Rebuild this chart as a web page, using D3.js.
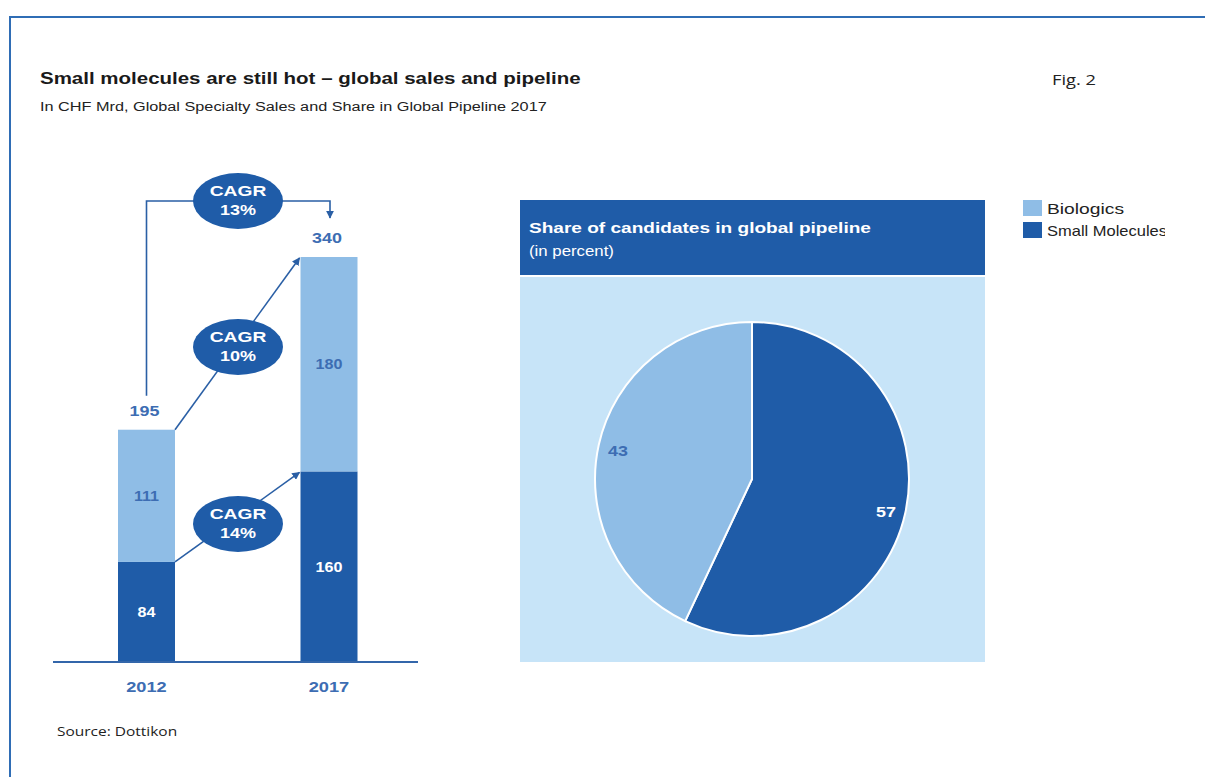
<!DOCTYPE html>
<html>
<head>
<meta charset="utf-8">
<script src="https://cdn.jsdelivr.net/npm/d3@7"></script>
<style>
  body { margin: 0; background: #fff; }
  svg { display: block; font-family: Arial, "Liberation Sans", sans-serif; }
</style>
</head>
<body>
<svg id="chart" width="1205" height="777"></svg>
<script>
// Datos
const years = ["2012", "2017"];
const smallMolecules = [84, 160];
const biologics = [111, 180];
const totals = [195, 340];
const cagrLabels = ["13%", "10%", "14%"];
const pieLabels = ["Small Molecules", "Biologics"];
const pieValues = [57, 43];
const legendLabels = ["Biologics", "Small Molecules"];

// Colores
const darkBlue = "#1f5ca8";
const lightBlue = "#8fbde6";
const paleBlue = "#c7e4f8";
const textBlue = "#3d6db3";

// La imagen original está estirada en horizontal
const K = 1.28;
function stretch(sel, k) {
    sel.each(function () {
        const len = this.getComputedTextLength();
        d3.select(this).attr("textLength", len * (k || K)).attr("lengthAdjust", "spacingAndGlyphs");
    });
    return sel;
}

const svg = d3.select("#chart");

// Marco
svg.append("path")
    .attr("d", "M10,777 L10,17 L1205,17")
    .attr("fill", "none")
    .attr("stroke", "#2f6db5")
    .attr("stroke-width", 2);

// Títulos
stretch(svg.append("text").attr("x", 40).attr("y", 84)
    .attr("font-size", 16).attr("font-weight", "bold").attr("fill", "#1a1a1a")
    .text("Small molecules are still hot \u2013 global sales and pipeline"), 1.28);
stretch(svg.append("text").attr("x", 40).attr("y", 111)
    .attr("font-size", 12.5).attr("fill", "#222")
    .text("In CHF Mrd, Global Specialty Sales and Share in Global Pipeline 2017"), 1.3);
stretch(svg.append("text").attr("x", 1052).attr("y", 85)
    .attr("font-size", 15).attr("fill", "#222")
    .attr("font-family", "'Open Sans', sans-serif")
    .text("Fig. 2"), 1.22);
stretch(svg.append("text").attr("x", 57).attr("y", 736)
    .attr("font-size", 13).attr("fill", "#222")
    .attr("font-family", "'Open Sans', sans-serif")
    .text("Source: Dottikon"), 1.19);

// Barras apiladas
const baseY = 662;
const barW = 57;
const x = d3.scalePoint().domain(years).range([146.5, 329]);
const y = d3.scaleLinear().domain([0, 340]).range([baseY, 257]);

const stackData = years.map((yr, i) => ({ year: yr, small: smallMolecules[i], bio: biologics[i] }));
const stack = d3.stack().keys(["small", "bio"])(stackData);
const barColors = { small: darkBlue, bio: lightBlue };

const bars = svg.append("g");
stack.forEach(layer => {
    bars.selectAll(null).data(layer).enter().append("rect")
        .attr("x", d => x(d.data.year) - barW / 2)
        .attr("width", barW)
        .attr("y", d => y(d[1]))
        .attr("height", d => y(d[0]) - y(d[1]))
        .attr("fill", barColors[layer.key]);
    stretch(bars.selectAll(null).data(layer).enter().append("text")
        .attr("x", d => x(d.data.year))
        .attr("y", d => (y(d[0]) + y(d[1])) / 2 + 5)
        .attr("text-anchor", "middle")
        .attr("font-size", 14).attr("font-weight", "bold")
        .attr("fill", layer.key === "small" ? "#fff" : textBlue)
        .text(d => d[1] - d[0]), 1.15);
});

// Totales
stretch(svg.selectAll(".total").data(years).enter().append("text")
    .attr("class", "total")
    .attr("x", d => x(d) - 2)
    .attr("y", (d, i) => y(totals[i]) - 14)
    .attr("text-anchor", "middle")
    .attr("font-size", 14).attr("font-weight", "bold").attr("fill", textBlue)
    .text((d, i) => totals[i]));

// Eje
svg.append("line")
    .attr("x1", 53).attr("x2", 418).attr("y1", baseY).attr("y2", baseY)
    .attr("stroke", "#3366aa").attr("stroke-width", 2);
stretch(svg.selectAll(".year").data(years).enter().append("text")
    .attr("x", d => x(d))
    .attr("y", 692)
    .attr("text-anchor", "middle")
    .attr("font-size", 14).attr("font-weight", "bold").attr("fill", textBlue)
    .text(d => d), 1.3);

// Flechas
const defs = svg.append("defs");
defs.append("marker").attr("id", "arrow")
    .attr("viewBox", "0 0 10 10").attr("refX", 9).attr("refY", 5)
    .attr("markerWidth", 5).attr("markerHeight", 5).attr("orient", "auto")
    .append("path").attr("d", "M0,0 L10,5 L0,10 Z").attr("fill", "#2a5fa5");

const c0 = x("2012"), c1 = x("2017");
const arrowG = svg.append("g").attr("fill", "none").attr("stroke", "#2a5fa5").attr("stroke-width", 1.6);
arrowG.append("path")
    .attr("d", `M${c0},${y(totals[0]) - 34} V201 H${c1 + 1} V${y(totals[1]) - 39}`)
    .attr("marker-end", "url(#arrow)");
arrowG.append("line")
    .attr("x1", c0 + barW / 2).attr("y1", y(totals[0]))
    .attr("x2", c1 - barW / 2 - 1).attr("y2", y(totals[1]) + 1)
    .attr("marker-end", "url(#arrow)");
arrowG.append("line")
    .attr("x1", c0 + barW / 2).attr("y1", y(smallMolecules[0]))
    .attr("x2", c1 - barW / 2 - 1).attr("y2", y(smallMolecules[1]) + 1)
    .attr("marker-end", "url(#arrow)");

// Burbujas CAGR
const bubbleY = [201, 347, 524];
const bubbles = svg.selectAll(".bubble").data(cagrLabels).enter().append("g")
    .attr("transform", (d, i) => `translate(238,${bubbleY[i]})`);
bubbles.append("ellipse").attr("rx", 45).attr("ry", 28).attr("fill", darkBlue);
stretch(bubbles.append("text").attr("y", -5).attr("text-anchor", "middle")
    .attr("font-size", 15).attr("font-weight", "bold").attr("fill", "#fff").text("CAGR"));
stretch(bubbles.append("text").attr("y", 14).attr("text-anchor", "middle")
    .attr("font-size", 15).attr("font-weight", "bold").attr("fill", "#fff").text(d => d), 1.2);

// Panel del pastel
svg.append("rect").attr("x", 520).attr("y", 200).attr("width", 465).attr("height", 75).attr("fill", darkBlue);
svg.append("rect").attr("x", 520).attr("y", 277).attr("width", 465).attr("height", 385).attr("fill", paleBlue);
stretch(svg.append("text").attr("x", 529).attr("y", 233)
    .attr("font-size", 15).attr("font-weight", "bold").attr("fill", "#fff")
    .text("Share of candidates in global pipeline"), 1.27);
stretch(svg.append("text").attr("x", 529).attr("y", 256)
    .attr("font-size", 14).attr("fill", "#fff")
    .text("(in percent)"), 1.2);

const cx = 752, cy = 479, r = 157;
const pie = d3.pie().sort(null).value(d => d.value);
const arcs = pie(pieLabels.map((l, i) => ({ label: l, value: pieValues[i] })));
const arc = d3.arc().innerRadius(0).outerRadius(r);
const pieG = svg.append("g").attr("transform", `translate(${cx},${cy})`);
pieG.selectAll("path").data(arcs).enter().append("path")
    .attr("d", arc)
    .attr("fill", (d, i) => i === 0 ? darkBlue : lightBlue)
    .attr("stroke", "#fff").attr("stroke-width", 2);

const labelPos = [[134, 38], [-134, -23]];
stretch(pieG.selectAll(".plabel").data(arcs).enter().append("text")
    .attr("x", (d, i) => labelPos[i][0]).attr("y", (d, i) => labelPos[i][1])
    .attr("text-anchor", "middle")
    .attr("font-size", 14).attr("font-weight", "bold")
    .attr("fill", (d, i) => i === 0 ? "#fff" : textBlue)
    .text(d => d.data.value));

// Leyenda (el texto queda recortado en el borde, como en el original)
const legendW = [77, 120];
defs.append("clipPath").attr("id", "legclip")
    .append("rect").attr("x", 1000).attr("y", 190).attr("width", 165).attr("height", 60);
const leg = svg.append("g").attr("clip-path", "url(#legclip)");
legendLabels.forEach((l, i) => {
    leg.append("rect").attr("x", 1023).attr("y", 200 + i * 22).attr("width", 19).attr("height", 16)
        .attr("fill", i === 0 ? lightBlue : darkBlue);
    leg.append("text").attr("x", 1047).attr("y", 214 + i * 22)
        .attr("font-size", 15).attr("fill", "#222")
        .attr("textLength", legendW[i]).attr("lengthAdjust", "spacingAndGlyphs")
        .text(l);
});
</script>
</body>
</html>
